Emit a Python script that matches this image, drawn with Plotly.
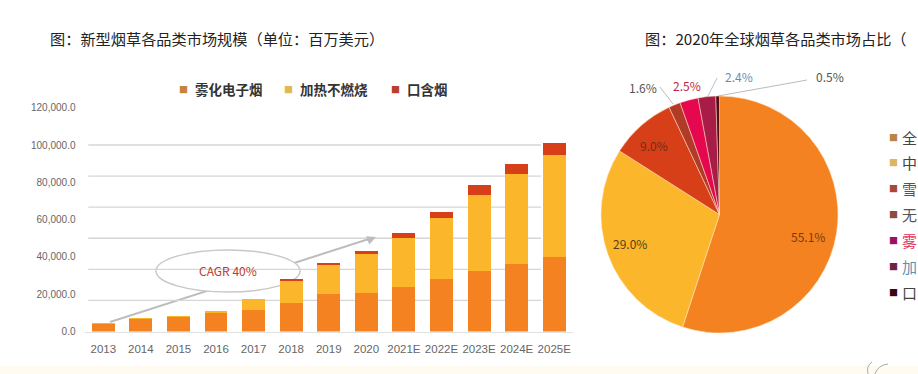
import plotly.graph_objects as go

W, H = 918, 374
years = ["2013","2014","2015","2016","2017","2018","2019","2020","2021E","2022E","2023E","2024E","2025E"]
vapor = [4600, 7000, 8300, 9800, 11600, 15550, 20200, 20700, 23800, 28200, 32500, 36100, 39700]
hnb = [100, 100, 100, 1100, 5750, 12150, 15900, 20900, 26200, 32400, 40950, 48400, 55000]
oral = [0, 0, 0, 0, 0, 500, 900, 1300, 2700, 3550, 5350, 5400, 6600]
series_names = ["雾化电子烟", "加热不燃烧", "口含烟"]
bar_colors = ["#F58220", "#FBB62C", "#D63F18"]
bar_swatches = ["#C4843C", "#E2B855", "#B8402A"]
y_ticks = [0, 20000, 40000, 60000, 80000, 100000, 120000]
y_tick_labels = ["0.0", "20,000.0", "40,000.0", "60,000.0", "80,000.0", "100,000.0", "120,000.0"]
grid_vals = [16700, 33300, 50000, 66700, 83300, 100000]

pie_labels = ["全", "中", "雪", "无", "雾", "加", "口"]
pie_values = [55.1, 29.0, 9.0, 1.6, 2.5, 2.4, 0.5]
pie_colors = ["#F58220", "#FBB62C", "#D63F18", "#B23A28", "#E6084F", "#A81C48", "#5A0A14"]
pie_legend_swatch = ["#B98548", "#DDB65F", "#A8483A", "#8C4A40", "#9E1060", "#6E2246", "#3A0614"]
pie_legend_text = ["#444444", "#444444", "#555555", "#555555", "#E0325A", "#5F8FB5", "#444444"]

def px(x): return x / W
def py(y): return 1 - y / H

fig = go.Figure()
for name, vals, col in zip(series_names, [vapor, hnb, oral], bar_colors):
    fig.add_bar(x=years, y=vals, name=name, marker=dict(color=col, line_width=0), width=0.61, showlegend=False)

fig.add_pie(labels=pie_labels, values=pie_values, sort=False, direction="clockwise", rotation=0,
            marker=dict(colors=pie_colors, line=dict(color="#FFE9C8", width=0.5)),
            textinfo="none", hoverinfo="label+percent", showlegend=False,
            domain=dict(x=[px(601), px(838)], y=[py(333), py(96)]))

shapes = []
for g in grid_vals:
    shapes.append(dict(type="line", layer="below", xref="x", yref="y", x0=-0.4, x1=11.65, y0=g, y1=g,
                       line=dict(color="#D6D6D6", width=1.3)))
shapes.append(dict(type="line", layer="below", xref="paper", yref="paper",
                   x0=px(110), y0=py(322), x1=px(372), y1=py(238), line=dict(color="#BDBDBD", width=2)))
shapes.append(dict(type="circle", layer="below", xref="paper", yref="paper",
                   x0=px(156), x1=px(300), y0=py(250), y1=py(292),
                   fillcolor="#FFFFFF", line=dict(color="#C8C8C8", width=1.5)))
shapes.append(dict(type="rect", layer="below", xref="paper", yref="paper", x0=0, x1=1, y0=0, y1=py(366),
                   fillcolor="#FFFBF0", line_width=0))
for path in [f"M {px(868)} {py(374)} Q {px(866)} {py(366)} {px(872)} {py(362)}",
             f"M {px(875)} {py(374)} Q {px(878)} {py(365)} {px(888)} {py(364)}"]:
    shapes.append(dict(type="path", xref="paper", yref="paper", path=path, line=dict(color="#AAAAAA", width=1)))

ann = []
def text(x, y, s, size=12, color="#444444", anchor="center", weight=None):
    f = dict(size=size, color=color)
    if weight:
        f["weight"] = weight
    ann.append(dict(xref="paper", yref="paper", x=px(x - 2 if anchor == "left" else x), y=py(y), text=s, showarrow=False,
                    xanchor=anchor, yanchor="middle", font=f))

text(50, 38, "图：新型烟草各品类市场规模（单位：百万美元）", 15.2, "#222222", "left")
text(645, 38, "图：2020年全球烟草各品类市场占比（", 15.2, "#222222", "left")
text(228, 270, "CAGR 40%", 12, "#C0392B")
ann.append(dict(xref="paper", yref="paper", axref="pixel", ayref="pixel", x=px(376), y=py(237),
                ax=-10, ay=4, text="", showarrow=True, arrowhead=2, arrowsize=1, arrowwidth=1.8, arrowcolor="#BDBDBD"))

for x, y, s, c in [(808, 236, "55.1%", "#7A3A10"), (630, 243, "29.0%", "#5A4010"), (654, 145, "9.0%", "#7A2A10"),
                   (643, 87, "1.6%", "#555555"), (687, 85, "2.5%", "#C0254A"), (739, 77, "2.4%", "#6B8FAF"),
                   (830, 77, "0.5%", "#555555")]:
    text(x, y, s, 12, c)

leaders = [((660, 87), (673, 104)), ((717, 78), (708, 96)), ((807, 80), (718, 96))]
for (a, b), col in zip(leaders, ["#AAAAAA", "#9DB4C8", "#AAAAAA"]):
    shapes.append(dict(type="line", xref="paper", yref="paper", x0=px(a[0]), y0=py(a[1]), x1=px(b[0]), y1=py(b[1]),
                       line=dict(color=col, width=0.8)))

for lab_x, name, sw in zip([195, 300, 407], series_names, bar_swatches):
    text(lab_x - 12, 89, "■", 9, sw)
    text(lab_x, 89, name, 13.5, "#333333", "left", 700)

for i, (lab, sw, tc) in enumerate(zip(pie_labels, pie_legend_swatch, pie_legend_text)):
    y = 137 + i * 25.9
    text(893, y, "■", 9, sw)
    text(902, y, lab, 15, tc, "left")

fig.update_layout(
    width=W, height=H, margin=dict(l=0, r=0, t=0, b=0), autosize=False,
    paper_bgcolor="#FFFFFF", plot_bgcolor="rgba(0,0,0,0)",
    barmode="stack", bargap=0.39,
    font=dict(family="Noto Sans CJK SC, Liberation Sans, sans-serif", color="#555555", size=11),
    xaxis=dict(domain=[px(84.5), px(573)], automargin=False, showgrid=False, showline=True, linecolor="#E0E0E0", linewidth=1,
               ticks="", ticklabelstandoff=7, tickfont=dict(size=11.5, color="#666666", family="Liberation Sans"),
               categoryorder="array", categoryarray=years),
    yaxis=dict(domain=[py(331.5), py(107.7)], automargin=False, range=[0, 120000], tickvals=y_ticks, ticktext=y_tick_labels,
               showgrid=False, zeroline=False, ticks="", ticklabelstandoff=8,
               tickfont=dict(size=10, color="#666666", family="Liberation Sans")),
    showlegend=False,
    shapes=shapes, annotations=ann,
)
fig.write_html("out.html", config=dict(displayModeBar=False),
               post_script="document.body.style.margin='0';document.documentElement.style.overflow='hidden';")
